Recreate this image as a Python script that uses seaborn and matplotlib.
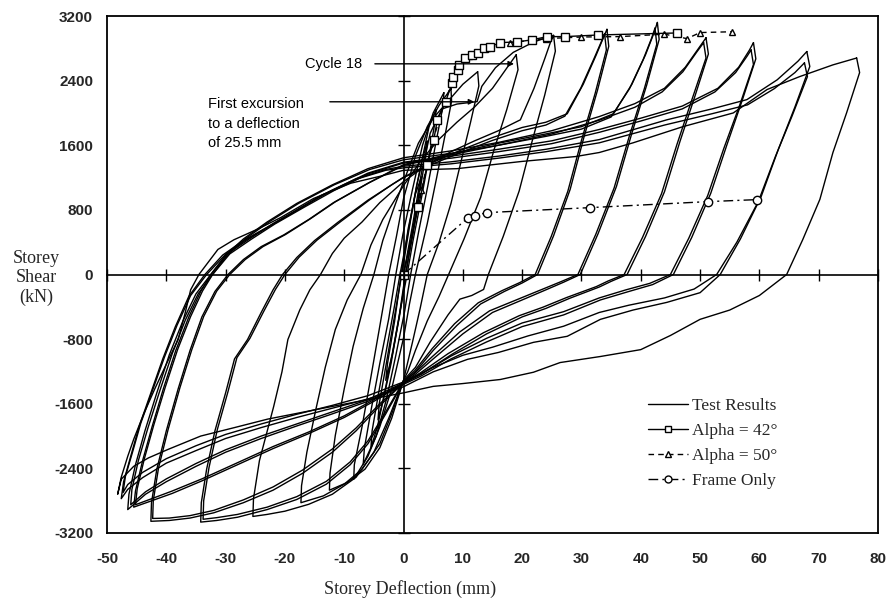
import matplotlib
matplotlib.use("Agg")
import matplotlib.pyplot as plt
from matplotlib.lines import Line2D
import pandas as pd
import seaborn as sns

# ---------------- data ----------------
x_ticks = [-50, -40, -30, -20, -10, 0, 10, 20, 30, 40, 50, 60, 70, 80]
y_ticks = [-3200, -2400, -1600, -800, 0, 800, 1600, 2400, 3200]

# test hysteresis loops: (storey deflection mm, storey shear kN)
loop_76 = [(76.4,2680),(76.9,2500),(74.7,2000),(72.4,1510),(70.2,930),(67.3,430),(64.6,0),(60,-260),(55,-440),
           (50,-555),(45,-755),(40,-930),(33.2,-1015),(26.4,-1090),(21.9,-1210),(16.3,-1300),(10,-1350),
           (5,-1385),(0,-1465),(-6,-1550),(-11.8,-1630),(-17,-1705),(-22.9,-1790),(-28.5,-1895),(-34.2,-2000),
           (-39.7,-2165),(-43,-2270),(-45.5,-2375),(-47.6,-2535),(-48.2,-2720),(-47.6,-2510),(-46.5,-2250),
           (-45.5,-2040),(-43.8,-1725),(-42,-1425),(-40,-1110),(-38,-805),(-36.8,-470),(-35.9,-190),(-34.5,0),
           (-31.3,310),(-28.6,430),(-24.5,565),(-20.7,705),(-15.2,940),(-8.9,1130),(-4,1215),(0,1290),
           (9,1310),(20,1400),(29,1460),(33,1510),(38.7,1630),(47.1,1830),(55.6,2000),(61.3,2290),(66.8,2450),
           (72.4,2595),(76.4,2680)]
loop_68 = [(68,2760),(68.5,2575),(66,2075),(63.2,1550),(60.3,965),(56.8,440),(53.4,0),(50,-225),(44.4,-345),
           (38.7,-440),(33.2,-555),(27.6,-765),(21.9,-840),(16,-965),(10.8,-1050),(5,-1205),(0,-1390),
           (-6,-1540),(-12,-1655),(-18,-1770),(-24,-1895),(-30,-2030),(-35,-2180),(-40,-2335),(-44,-2515),
           (-46.5,-2660),(-47.6,-2775),(-47.2,-2565),(-46,-2250),(-44.6,-1885),(-42.6,-1465),(-40.6,-1045),
           (-38.5,-650),(-36.2,-270),(-33.5,0),(-30.5,240),(-27,420),(-23,585),(-19,755),(-14,975),(-8,1185),
           (-3,1300),(0,1340),(8,1395),(16,1465),(24,1550),(33,1670),(44.4,1915),(52,2050),(57.9,2165),
           (63,2410),(66.5,2640),(68,2760)]
loop_68b = [(67.6,2620),(68.1,2450),(65.5,1960),(62.7,1460),(59.8,900),(56.2,400),(52.8,0),(49,-180),
            (44,-290),(38,-380),(33,-470),(27,-640),(21,-760),(15,-900),(10,-1000),(5,-1150),(0,-1330),
            (-6,-1500),(-12,-1620),(-18,-1730),(-24,-1850),(-30,-1980),(-35,-2120),(-40,-2280),(-44,-2450),
            (-46.5,-2600),(-47.3,-2700),(-46.9,-2500),(-45.7,-2200),(-44.3,-1840),(-42.3,-1430),(-40.3,-1020),
            (-38.2,-630),(-35.9,-260),(-33.2,0),(-30,250),(-26.5,430),(-22.5,600),(-18.5,770),(-13.5,990),
            (-7.5,1190),(-3,1290),(0,1320),(8,1370),(16,1440),(24,1520),(33,1630),(44,1850),(52,1990),
            (58,2100),(62.5,2300),(66,2500),(67.6,2620)]
loop_59 = [(59,2870),(59.4,2670),(57.1,2155),(54.5,1600),(51.8,1005),(48.6,460),(45.5,0),(42,-125),
           (38,-210),(33.2,-315),(27,-500),(20,-645),(14,-835),(8,-1045),(3,-1255),(0,-1360),(-6,-1570),
           (-12,-1725),(-18,-1875),(-24,-2030),(-30,-2200),(-35,-2375),(-40,-2565),(-43.5,-2720),
           (-46.5,-2910),(-46.3,-2720),(-45.2,-2355),(-43.6,-1935),(-41.6,-1465),(-39.5,-995),(-37.2,-575),
           (-35,-240),(-32.5,0),(-29.6,260),(-26,440),(-22,630),(-17,840),(-12,1045),(-6,1255),(0,1390),
           (8,1465),(16,1550),(25,1655),(33,1795),(40,1935),(47,2085),(53,2305),(56.5,2565),(58.3,2775),
           (59,2870)]
loop_59b = [(58.6,2780),(59,2600),(56.7,2100),(54,1560),(51.3,980),(48.1,450),(45,0),(41.5,-110),
            (37.5,-190),(33,-290),(27,-460),(20,-600),(14,-790),(8,-1010),(3,-1230),(0,-1340),(-6,-1550),
            (-12,-1700),(-18,-1850),(-24,-2000),(-30,-2170),(-35,-2340),(-40,-2530),(-43.5,-2690),
            (-46,-2850),(-45.8,-2660),(-44.7,-2300),(-43.1,-1900),(-41.1,-1440),(-39,-980),(-36.8,-565),
            (-34.6,-235),(-32.2,0),(-29.3,255),(-25.7,435),(-21.7,625),(-16.7,835),(-11.7,1040),
            (-5.8,1250),(0,1380),(8,1440),(16,1520),(25,1620),(33,1760),(40,1900),(47,2050),(52.5,2260),
            (56,2500),(57.9,2700),(58.6,2780)]
loop_51 = [(51,2930),(51.4,2730),(49.1,2200),(46.6,1645),(44,1025),(40.8,470),(37.7,0),(35,-85),(33,-155),
           (28,-295),(24,-420),(20,-525),(14,-735),(8,-995),(3,-1235),(0,-1350),(-5,-1570),(-10,-1770),
           (-16,-1970),(-22,-2155),(-28,-2355),(-34,-2555),(-39,-2710),(-43,-2815),(-45.5,-2880),
           (-45.2,-2680),(-44,-2305),(-42.4,-1885),(-40.5,-1415),(-38.4,-940),(-36.2,-525),(-34.2,-210),
           (-32.5,0),(-30,240),(-27,440),(-23,650),(-18,880),(-12,1110),(-6,1310),(0,1445),(8,1530),
           (16,1635),(25,1780),(33,1955),(39,2115),(44,2305),(47.5,2565),(49.8,2805),(51,2930)]
loop_51b = [(50.6,2870),(51,2680),(48.6,2160),(46.1,1610),(43.5,1000),(40.3,460),(37.2,0),(34.5,-80),
            (32.5,-150),(27.5,-285),(23.5,-405),(19.5,-510),(13.5,-720),(7.5,-980),(2.8,-1220),(0,-1340),
            (-5,-1550),(-10,-1750),(-16,-1950),(-22,-2130),(-28,-2330),(-34,-2530),(-39,-2680),(-43,-2790),
            (-45.2,-2850),(-44.9,-2650),(-43.7,-2280),(-42.1,-1860),(-40.2,-1400),(-38.1,-930),(-35.9,-520),
            (-33.9,-205),(-32.2,0),(-29.7,240),(-26.7,440),(-22.7,650),(-17.7,880),(-11.7,1110),(-5.7,1300),
            (0,1420),(8,1500),(16,1600),(25,1740),(33,1910),(39,2070),(43.6,2260),(47.1,2510),(49.4,2750),
            (50.6,2870)]
loop_43 = [(42.8,3120),(43.1,2910),(41,2345),(38.5,1750),(35.9,1090),(32.8,505),(29.8,0),(27,-95),
           (24,-190),(20,-315),(15,-470),(10,-735),(5,-1045),(2,-1235),(0,-1340),(-4,-1625),(-8,-1935),
           (-12,-2200),(-17,-2460),(-22,-2670),(-27,-2825),(-32,-2950),(-36,-3015),(-39.5,-3045),
           (-42.6,-3055),(-42.5,-2825),(-41.6,-2410),(-40,-1935),(-38,-1415),(-36,-940),(-34,-525),
           (-31.8,-210),(-29.6,0),(-27,185),(-24,345),(-20.2,490),(-16,680),(-11.8,890),(-6,1130),(0,1360),
           (8,1495),(16,1625),(24,1740),(30,1830),(35.4,1990),(38.5,2355),(40.8,2720),(42.2,2985),
           (42.8,3120)]
loop_43b = [(42.4,3050),(42.7,2850),(40.6,2300),(38.1,1720),(35.5,1070),(32.4,495),(29.4,0),(26.5,-90),
            (23.5,-180),(19.5,-300),(14.5,-450),(9.5,-710),(4.8,-1020),(1.9,-1220),(0,-1330),(-4,-1600),
            (-8,-1900),(-12,-2160),(-17,-2420),(-22,-2630),(-27,-2790),(-32,-2920),(-36,-2985),
            (-39.5,-3015),(-42.3,-3020),(-42.2,-2800),(-41.3,-2390),(-39.7,-1920),(-37.7,-1400),
            (-35.7,-930),(-33.7,-520),(-31.5,-205),(-29.3,0),(-26.7,185),(-23.7,345),(-19.9,495),
            (-15.7,690),(-11.5,900),(-5.7,1140),(0,1350),(8,1480),(16,1600),(24,1710),(30,1800),(35,1950),
            (38.1,2300),(40.4,2660),(41.8,2920),(42.4,3050)]
loop_34 = [(34.3,3035),(34.6,2825),(32.7,2280),(30.4,1695),(28.1,1055),(25.3,480),(22.6,0),(20,-105),
           (17,-210),(13,-365),(9,-630),(5,-940),(2,-1205),(0,-1330),(-3,-1725),(-6,-2095),(-9,-2355),
           (-13,-2595),(-18,-2785),(-23,-2910),(-28,-3005),(-31.5,-3045),(-34.2,-3065),(-34.1,-2825),
           (-33.2,-2410),(-31.8,-1935),(-30,-1465),(-28.5,-1045),(-26.3,-805),(-24,-470),(-22,-190),
           (-20.4,0),(-18,210),(-15,420),(-11,650),(-6,920),(-2,1110),(0,1205),(5,1390),(10,1550),
           (15,1695),(20,1820),(24,1885),(27.6,1990),(30.3,2355),(32.5,2720),(33.8,2950),(34.3,3035)]
loop_34b = [(33.9,2980),(34.2,2780),(32.3,2240),(30,1660),(27.7,1030),(24.9,470),(22.2,0),(19.6,-100),
            (16.6,-200),(12.6,-350),(8.6,-610),(4.8,-920),(1.9,-1190),(0,-1320),(-3,-1700),(-6,-2060),
            (-9,-2320),(-13,-2560),(-18,-2750),(-23,-2880),(-28,-2970),(-31.5,-3010),(-33.8,-3030),
            (-33.7,-2800),(-32.8,-2390),(-31.4,-1920),(-29.6,-1450),(-28.1,-1030),(-25.9,-790),(-23.6,-460),
            (-21.6,-185),(-20,0),(-17.6,215),(-14.6,425),(-10.6,655),(-5.7,925),(-1.9,1115),(0,1200),
            (5,1370),(10,1520),(15,1660),(20,1780),(24,1850),(27.2,1960),(29.9,2310),(32.1,2670),
            (33.4,2890),(33.9,2980)]
loop_25 = [(25.3,2960),(25.6,2765),(23.8,2220),(21.7,1655),(19.5,1035),(16.8,470),(14.3,0),(13.5,-185),
           (11.5,-260),(9.5,-305),(7.5,-500),(4.5,-835),(2,-1150),(0,-1310),(-2.5,-1780),(-5,-2200),
           (-8,-2510),(-12,-2720),(-16,-2845),(-20,-2930),(-23,-2970),(-25.4,-2995),(-25.3,-2775),
           (-24.3,-2305),(-21.9,-1635),(-20.5,-1205),(-19.5,-805),(-17.5,-440),(-15.8,-190),(-14,0),
           (-12,260),(-10,450),(-7,650),(-4,890),(0,1150),(4,1360),(8,1520),(12,1655),(16,1780),
           (19.7,1915),(22,2305),(23.8,2670),(24.8,2880),(25.3,2960)]
loop_19 = [(19,2720),(19.3,2535),(17.4,2040),(15.2,1530),(13,955),(10.2,440),(7.6,0),(6,-270),(4,-575),
           (2,-940),(0.7,-1205),(0,-1310),(-2,-1725),(-4,-2095),(-7,-2410),(-10,-2595),(-13.5,-2740),
           (-17.3,-2825),(-17.2,-2615),(-16.3,-2200),(-14.8,-1675),(-13.2,-1150),(-11.5,-680),(-9.5,-315),
           (-7.2,0),(-5.5,365),(-3.5,680),(0,1100),(3,1415),(6,1675),(9,1885),(12,2075),(15,2305),
           (17.5,2565),(19,2720)]
loop_12 = [(12.5,2510),(12.7,2335),(11.3,1885),(9.7,1400),(8,880),(6,400),(4,0),(2.8,-420),(1.5,-840),
           (0.5,-1150),(0,-1310),(-2,-1780),(-4,-2145),(-6.5,-2410),(-9.5,-2575),(-12.5,-2670),
           (-12.4,-2460),(-11.5,-1990),(-10,-1415),(-8.5,-890),(-6.8,-420),(-5,0),(-3.5,420),(-1.8,785),
           (0,1150),(2.5,1625),(5,1935),(7.5,2145),(10,2355),(12.5,2510)]
loop_8 = [(8,2300),(8.1,2145),(7,1725),(5.6,1205),(4,630),(2,0),(1,-365),(0,-785),(-2,-1415),(-4,-1885),
          (-6,-2250),(-8.4,-2535),(-8.3,-2355),(-7,-1885),(-5.6,-1310),(-4.1,-680),(-2.5,0),(-1.2,470),
          (0,940),(2,1465),(4,1830),(6,2095),(8,2300)]
loop_6 = [(6.8,2250),(6.7,2100),(5.5,1650),(4.1,1100),(2.6,550),(1.2,0),(0.2,-450),(-1.3,-1000),
          (-2.9,-1550),(-4.6,-2000),(-6.8,-2350),(-6.6,-2150),(-5.4,-1650),(-4,-1100),(-2.5,-550),(-1.3,0),
          (-0.1,500),(1.5,1050),(3.2,1600),(5,2000),(6.8,2250)]
loop_5 = [(5.5,2040),(5.3,1885),(4.2,1415),(3,940),(1.6,420),(0.6,0),(-0.5,-420),(-1.8,-940),(-3.2,-1465),
          (-4.4,-1885),(-5.5,-2145),(-5.3,-1935),(-4.2,-1465),(-2.9,-940),(-1.6,-420),(-0.6,0),(0.5,420),
          (1.8,940),(3.1,1415),(4.3,1830),(5.5,2040)]
loop_4 = [(4,1650),(3.8,1500),(2.8,1050),(1.6,500),(0.3,0),(-0.8,-550),(-2.1,-1100),(-3.4,-1550),
          (-4.3,-1800),(-4.1,-1600),(-2.9,-1100),(-1.6,-550),(-0.3,0),(0.9,550),(2.2,1100),(3.3,1450),
          (4,1650)]
loop_3 = [(3,1205),(2.7,1045),(1.6,575),(0.4,0),(-0.7,-525),(-1.9,-995),(-3,-1310),(-2.7,-1100),
          (-1.5,-575),(-0.4,0),(0.8,575),(2,995),(3,1205)]
# first excursion to 25.5 mm (with the kink marked by the arrow)
first_excursion = [(0,0),(1.5,600),(3,1250),(4.5,1750),(6.5,2050),(9,2110),(12.4,2140),(13.2,2330),
                   (15.5,2560),(18.5,2750),(22,2880),(25.3,2960)]

# model curves
alpha42_x = [0, 2.5, 4, 5.1, 5.7, 7.1, 8.2, 8.4, 9.1, 9.3, 10.4, 11.6, 12.5, 13.5, 14.6, 16.3, 19.2, 21.7,
             24.2, 27.3, 32.8, 46.1]
alpha42_y = [0, 840, 1360, 1670, 1915, 2140, 2375, 2450, 2535, 2595, 2685, 2720, 2745, 2805, 2820, 2870,
             2880, 2905, 2945, 2945, 2965, 2990]
alpha50_x = [0, 3, 5, 7, 9, 11, 14, 18, 24, 30, 36.5, 44, 47.8, 50, 55.4]
alpha50_y = [0, 1050, 1675, 2145, 2535, 2700, 2805, 2870, 2920, 2940, 2945, 2975, 2920, 2995, 3005]
frame_x = [0, 10.9, 12.1, 14.0, 31.5, 51.3, 59.6]
frame_y = [0, 705, 729, 766, 828, 902, 927]

# ---------------- figure ----------------
sns.set_theme(style="white")
plt.rcParams['font.family'] = ['Liberation Sans', 'DejaVu Sans']

fig = plt.figure(figsize=(8.91, 6.01), dpi=100)
ax = fig.add_axes([107/891, 1-533/601, 771/891, 517/601])

test_loops = [loop_76, loop_68, loop_68b, loop_59, loop_59b, loop_51, loop_51b, loop_43, loop_43b,
              loop_34, loop_34b, loop_25, loop_19, loop_12, loop_8, loop_6, loop_5, loop_4, loop_3,
              first_excursion]
for pts in test_loops:
    df = pd.DataFrame(pts, columns=["d", "v"])
    sns.lineplot(data=df, x="d", y="v", sort=False, estimator=None, color="black",
                 lw=1.0, ax=ax, legend=False)

dashdot = (0, (7, 3, 1.5, 3))
dashed = (0, (4, 3))
sns.lineplot(x=frame_x, y=frame_y, sort=False, estimator=None, color="black", lw=1.0,
             linestyle=dashdot, marker="o", ms=6, mfc="white", mec="black", mew=1.0,
             ax=ax, legend=False)
sns.lineplot(x=alpha50_x, y=alpha50_y, sort=False, estimator=None, color="black", lw=1.0,
             linestyle=dashed, marker="^", ms=5, mfc="white", mec="black", mew=1.0,
             ax=ax, legend=False)
sns.lineplot(x=alpha42_x, y=alpha42_y, sort=False, estimator=None, color="black", lw=1.0,
             marker="s", ms=5.5, mfc="white", mec="black", mew=1.0, ax=ax, legend=False)

ax.set_xlim(x_ticks[0], x_ticks[-1])
ax.set_ylim(y_ticks[0], y_ticks[-1])
ax.set_xticks(x_ticks)
ax.set_yticks(y_ticks)
ax.set_xticklabels([str(t) for t in x_ticks])
ax.set_yticklabels([str(t) for t in y_ticks])
ax.tick_params(axis="x", length=0, pad=14, labelsize=11)
ax.tick_params(axis="y", length=0, pad=10, labelsize=11)
for lab in ax.get_xticklabels() + ax.get_yticklabels():
    lab.set_fontweight("bold")
ax.set_xlabel("")
ax.set_ylabel("")
for s in ax.spines.values():
    s.set_color("black")
    s.set_linewidth(1.3)

# zero lines with crossing ticks (overlay axes sharing the scales)
ax0 = fig.add_axes(ax.get_position(), sharex=ax, sharey=ax)
ax0.patch.set_visible(False)
ax0.spines["left"].set_position(("data", 0))
ax0.spines["bottom"].set_position(("data", 0))
ax0.spines["top"].set_visible(False)
ax0.spines["right"].set_visible(False)
for k in ("left", "bottom"):
    ax0.spines[k].set_color("black")
    ax0.spines[k].set_linewidth(1.2)
ax0.tick_params(direction="inout", length=8, width=1.0, color="black",
                labelleft=False, labelbottom=False, left=True, bottom=True)
ax0.set_xlabel("")
ax0.set_ylabel("")

# annotations
ann_kw = dict(fontsize=10.5, family=["Liberation Sans", "DejaVu Sans"], color="black")
ax.annotate("", xy=(19.1, 2608), xytext=(-5.3, 2608),
            arrowprops=dict(arrowstyle="-|>", color="black", lw=1.0, mutation_scale=8))
ax.text(-7.0, 2608, "Cycle 18", ha="right", va="center", **ann_kw)
ax.annotate("", xy=(12.4, 2138), xytext=(-12.9, 2138),
            arrowprops=dict(arrowstyle="-|>", color="black", lw=1.0, mutation_scale=8))
ax.text(-32.9, 1866, "First excursion\nto a deflection\nof 25.5 mm", ha="left", va="center",
        linespacing=1.5, **ann_kw)

# axis titles
serif = ["Liberation Serif", "DejaVu Serif"]
fig.text(410/891, 1-589/601, "Storey Deflection (mm)", ha="center", va="center",
         fontsize=13, family=serif)
fig.text(36/891, 1-278/601, "Storey\nShear\n(kN)", ha="center", va="center",
         fontsize=13, family=serif, linespacing=1.15, multialignment="center")

# legend
handles = [Line2D([], [], color="black", lw=1.0),
           Line2D([], [], color="black", lw=1.0, marker="s", ms=5, mfc="white", mec="black"),
           Line2D([], [], color="black", lw=1.0, linestyle=dashed, marker="^", ms=5,
                  mfc="white", mec="black"),
           Line2D([], [], color="black", lw=1.0, linestyle=dashdot, marker="o", ms=5,
                  mfc="white", mec="black")]
labels = ["Test Results", "Alpha = 42\u00b0", "Alpha = 50\u00b0", "Frame Only"]
ax.legend(handles, labels, loc="upper left", bbox_to_anchor=((636-107)/771, (533-386)/517),
          frameon=False, prop={"family": serif, "size": 12.5}, handlelength=2.3,
          handletextpad=0.25, labelspacing=0.5, borderpad=0.2)

fig.savefig("out.png", dpi=100)
